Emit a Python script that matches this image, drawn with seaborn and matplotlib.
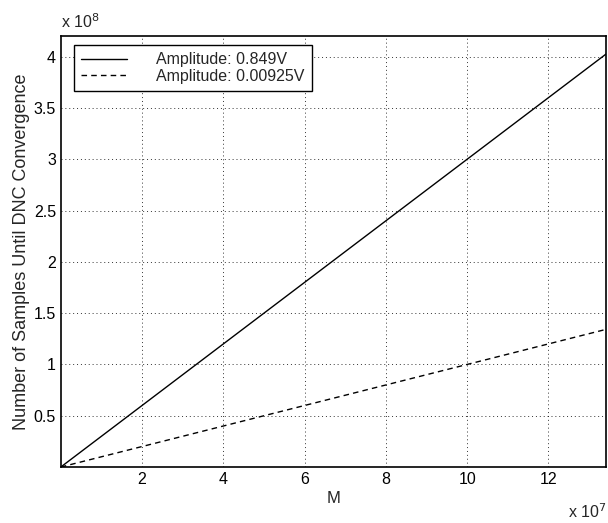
import numpy as np
import pandas as pd
import matplotlib
matplotlib.use("Agg")
import matplotlib.pyplot as plt
import seaborn as sns
from matplotlib.lines import Line2D

# data
M = [0, 1.342e8]
samples_high = [0, 4.026e8]   # Amplitude 0.849V
samples_low = [0, 1.342e8]    # Amplitude 0.00925V
labels = ["Amplitude: 0.849V", "Amplitude: 0.00925V"]

x_ticks = [2, 4, 6, 8, 10, 12]
y_ticks = [0.5, 1, 1.5, 2, 2.5, 3, 3.5, 4]

df = pd.DataFrame({
    "M": M + M,
    "N": samples_high + samples_low,
    "series": [labels[0]] * 2 + [labels[1]] * 2,
})

sns.set_style("white")
plt.rcParams["font.family"] = ["Liberation Sans", "DejaVu Sans"]

fig = plt.figure(figsize=(6.08, 5.23), dpi=100)
ax = fig.add_axes([0.100, 0.107, 0.897, 0.824])

sns.lineplot(data=df, x="M", y="N", hue="series", style="series",
             palette=["black", "black"], dashes=[(None, None), (4, 3)],
             linewidth=1.0, ax=ax, legend=False)

ax.set_xlim(0, 1.342e8)
ax.set_ylim(0, 4.2e8)
ax.set_xticks([t * 1e7 for t in x_ticks])
ax.set_xticklabels([str(t) for t in x_ticks])
ax.set_yticks([t * 1e8 for t in y_ticks])
ax.set_yticklabels([f"{t:g}" for t in y_ticks])
ax.tick_params(direction="in", length=5, width=0.8, labelsize=11.5, colors="black")
ax.grid(True, linestyle=(0, (1, 3)), color="black", linewidth=0.7, alpha=0.8)
for s in ax.spines.values():
    s.set_color("black")
    s.set_linewidth(1.2)

ax.set_xlabel("M", fontsize=12, labelpad=3)
ax.set_ylabel("Number of Samples Until DNC Convergence", fontsize=13, labelpad=3)

ax.text(0.0, 1.012, r"x 10$^8$", transform=ax.transAxes, fontsize=11.5, ha="left", va="bottom")
ax.text(1.0, -0.118, r"x 10$^7$", transform=ax.transAxes, fontsize=11.5, ha="right", va="baseline")

handles = [Line2D([], [], color="black", lw=1.0),
           Line2D([], [], color="black", lw=1.0, dashes=(4, 3))]
leg = ax.legend(handles, labels, loc="upper left", fontsize=11.5, handlelength=2.9,
                fancybox=False, frameon=True, edgecolor="black", framealpha=1,
                borderpad=0.45, labelspacing=0.1, handletextpad=1.8,
                borderaxespad=0, bbox_to_anchor=(0.024, 0.979))
leg.get_frame().set_linewidth(1.0)

fig.savefig("out.png", dpi=100)
